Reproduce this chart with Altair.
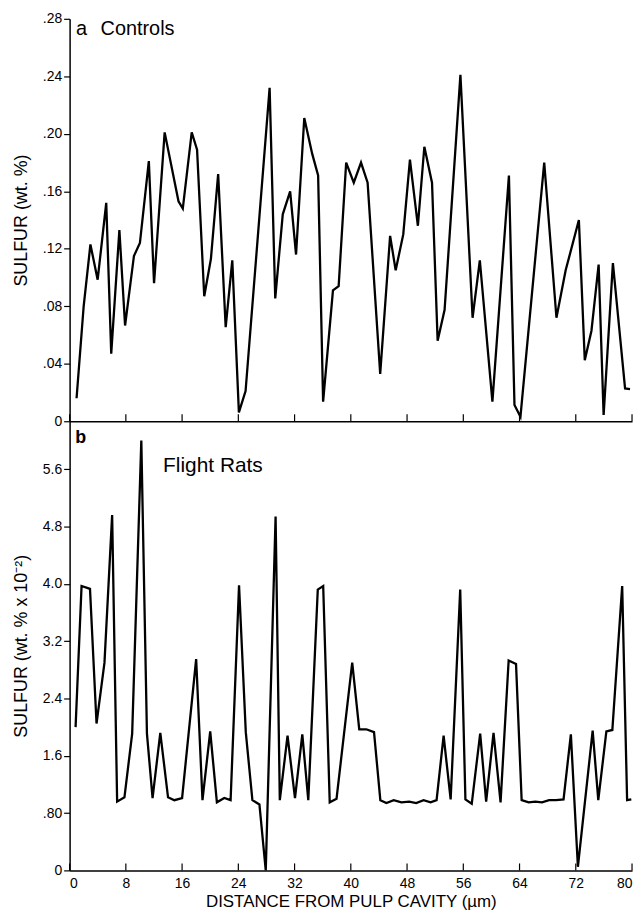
import altair as alt
import pandas as pd

# ---- data ----
ctrl_x = [0.99, 2.0, 2.96, 3.99, 5.21, 5.92, 7.08, 7.89, 9.15, 10.0, 11.27, 12.01, 13.52, 15.49, 16.1,
          17.37, 18.13, 19.15, 20.1, 21.13, 22.2, 23.14, 24.08, 25.03, 28.45, 29.25, 30.32, 31.37, 32.21,
          33.38, 34.51, 35.35, 36.06, 37.46, 38.27, 39.34, 40.42, 41.45, 42.39, 44.18, 45.59, 46.38, 47.46,
          48.41, 49.54, 50.46, 51.55, 52.35, 53.34, 55.59, 57.32, 58.35, 60.14, 62.49, 63.28, 64.13, 67.51,
          69.25, 70.56, 72.44, 73.28, 74.23, 75.25, 75.96, 77.28, 79.01, 79.72]
ctrl_y = [1.6, 8.0, 12.3, 9.85, 15.2, 4.7, 13.3, 6.66, 11.5, 12.4, 18.1, 9.6, 20.1, 15.3, 14.8,
          20.1, 18.9, 8.7, 11.3, 17.2, 6.55, 11.2, 0.62, 2.1, 23.2, 8.55, 14.4, 16.0, 11.6,
          21.1, 18.6, 17.1, 1.36, 9.1, 9.4, 18.0, 16.6, 18.0, 16.6, 3.3, 12.9, 10.5, 13.0,
          18.2, 13.6, 19.1, 16.6, 5.6, 7.75, 24.1, 7.2, 11.2, 1.36, 17.1, 1.13, 0.32, 18.0,
          7.2, 10.5, 14.0, 4.24, 6.3, 10.9, 0.44, 11.0, 2.28, 2.24]

flight_x = [0.85, 1.7, 2.6, 2.9, 3.83, 4.96, 6.05, 6.76, 7.8, 8.9, 10.2, 11.0, 11.8, 12.9, 14.0, 14.9,
            16.0, 18.0, 18.9, 20.0, 20.95, 22.0, 22.9, 24.1, 25.06, 26.0, 27.0, 27.9, 29.3, 29.9, 31.0,
            32.06, 33.1, 33.95, 35.3, 36.07, 37.0, 37.97, 40.2, 41.2, 42.2, 43.3, 44.2, 45.06, 46.1,
            47.2, 48.3, 49.3, 50.35, 51.35, 52.2, 53.2, 54.2, 55.56, 56.3, 57.2, 58.4, 59.25, 60.3,
            61.3, 62.45, 63.5, 64.3, 65.3, 66.24, 67.2, 68.2, 69.2, 70.26, 71.3, 72.3, 74.4, 75.2,
            76.35, 77.2, 78.6, 79.3, 79.9]
flight_y = [2.0, 3.97, 3.94, 3.93, 2.05, 2.9, 4.96, 0.96, 1.02, 1.91, 6.0, 1.91, 1.01, 1.92, 1.02, 0.98,
            1.01, 2.95, 0.98, 1.94, 0.95, 1.01, 0.98, 3.98, 1.93, 0.98, 0.92, 0.0, 4.94, 0.98, 1.88,
            1.01, 1.9, 0.98, 3.92, 3.97, 0.95, 1.0, 2.9, 1.97, 1.97, 1.93, 0.98, 0.94, 0.98,
            0.95, 0.96, 0.94, 0.98, 0.95, 0.98, 1.88, 0.99, 3.92, 0.99, 0.93, 1.91, 0.96, 1.92,
            0.95, 2.93, 2.88, 0.98, 0.95, 0.96, 0.95, 0.98, 0.98, 0.99, 1.9, 0.05, 1.95, 0.98,
            1.94, 1.96, 3.97, 0.98, 0.99]

x_ticks = [0, 8, 16, 24, 32, 40, 48, 56, 64, 72, 80]
top_yticks = [0, 4, 8, 12, 16, 20, 24, 28]
bot_yticks = [0, 0.8, 1.6, 2.4, 3.2, 4.0, 4.8, 5.6]

x_title = "DISTANCE FROM PULP CAVITY (µm)"
top_ytitle = "SULFUR (wt. %)"
bot_ytitle = "SULFUR (wt. % x 10⁻²)"

# ---- chart ----
W = 566
H_TOP = 405
H_BOT = 452
FONT = "Liberation Sans"

df_top = pd.DataFrame({"x": ctrl_x, "y": ctrl_y})
df_bot = pd.DataFrame({"x": flight_x, "y": flight_y})
df_ticks = pd.DataFrame({"t": x_ticks})

xscale = alt.Scale(domain=[0, 80], nice=False, zero=False)

yaxis_common = dict(tickSize=6, tickWidth=1.2, labelPadding=2, titlePadding=12,
                    titleFontSize=18, titleFontWeight="normal", labelFontSize=14,
                    grid=False, domainWidth=1.5)

top_line = alt.Chart(df_top).mark_line(color="black", strokeWidth=2.3).encode(
    x=alt.X("x:Q", scale=xscale,
            axis=alt.Axis(values=x_ticks, labels=False, ticks=False, grid=False,
                          title=None, domainWidth=1.5)),
    y=alt.Y("y:Q", scale=alt.Scale(domain=[0, 28], nice=False),
            axis=alt.Axis(values=top_yticks, title=top_ytitle,
                          labelExpr="datum.value == 0 ? '0' : (datum.value < 10 ? '.0' + datum.value : '.' + datum.value)",
                          **yaxis_common)),
)
top_tk = alt.Chart(df_ticks).mark_rule(color="black", strokeWidth=1.2).encode(
    x=alt.X("t:Q", scale=xscale), y=alt.value(H_TOP - 7), y2=alt.value(H_TOP)
)
top_a = alt.Chart().mark_text(align="left", baseline="middle", fontSize=20, font=FONT).encode(
    x=alt.datum(0.9), y=alt.datum(27.3), text=alt.value("a")
)
top_lbl = alt.Chart().mark_text(align="left", baseline="middle", fontSize=20, font=FONT).encode(
    x=alt.datum(4.4), y=alt.datum(27.3), text=alt.value("Controls")
)
top = alt.layer(top_tk, top_line, top_a, top_lbl).properties(width=W, height=H_TOP)

bot_line = alt.Chart(df_bot).mark_line(color="black", strokeWidth=2.3).encode(
    x=alt.X("x:Q", scale=xscale,
            axis=alt.Axis(values=x_ticks, ticks=False, tickSize=0, grid=False, labelPadding=6,
                          labelFontSize=14, title=x_title, titleFontSize=17,
                          titleFontWeight="normal", titlePadding=3, domainWidth=1.5)),
    y=alt.Y("y:Q", scale=alt.Scale(domain=[0, 6.27], nice=False),
            axis=alt.Axis(values=bot_yticks, title=bot_ytitle,
                          labelExpr="datum.value == 0 ? '0' : (datum.value < 1 ? '.' + format(datum.value * 100, '.0f') : format(datum.value, '.1f'))",
                          **yaxis_common)),
)
bot_tk = alt.Chart(df_ticks).mark_rule(color="black", strokeWidth=1.2).encode(
    x=alt.X("t:Q", scale=xscale), y=alt.value(H_BOT - 7), y2=alt.value(H_BOT)
)
bot_b = alt.Chart().mark_text(align="left", baseline="middle", fontSize=18, fontWeight="bold", font=FONT).encode(
    x=alt.datum(0.8), y=alt.datum(6.03), text=alt.value("b")
)
bot_lbl = alt.Chart().mark_text(align="left", baseline="middle", fontSize=21, font=FONT).encode(
    x=alt.datum(13.3), y=alt.datum(5.65), text=alt.value("Flight Rats")
)
bot = alt.layer(bot_tk, bot_line, bot_b, bot_lbl).properties(width=W, height=H_BOT)

chart = alt.vconcat(top, bot, spacing=0).properties(
    bounds="flush", padding={"top": 1, "left": 4, "right": 0, "bottom": 0}
).configure_view(stroke=None).configure_axis(
    labelFont=FONT, titleFont=FONT, labelColor="black", titleColor="black",
    domainColor="black", tickColor="black"
).configure_text(color="black")

chart.save("out.html", embed_options={"renderer": "svg", "actions": False})
